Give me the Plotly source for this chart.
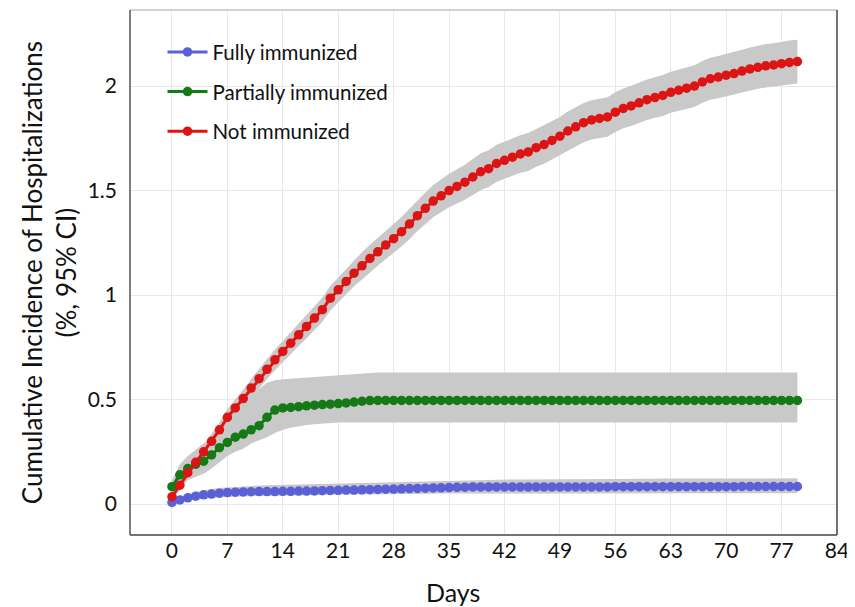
import plotly.graph_objects as go

days = list(range(0, 80))

fully = [0.008, 0.02, 0.03, 0.038, 0.044, 0.048, 0.052, 0.055, 0.057, 0.058,
         0.059, 0.06, 0.06, 0.06, 0.061, 0.061, 0.062, 0.062, 0.063, 0.064,
         0.065, 0.066, 0.067, 0.067, 0.068, 0.069, 0.07, 0.071, 0.072, 0.073,
         0.074, 0.075, 0.076, 0.077, 0.078, 0.079, 0.08, 0.081, 0.082, 0.082,
         0.082, 0.082, 0.082, 0.082, 0.082, 0.082, 0.082, 0.082, 0.082, 0.082,
         0.082, 0.082, 0.082, 0.082, 0.082, 0.082, 0.083, 0.083, 0.083, 0.083,
         0.083, 0.083, 0.083, 0.083, 0.083, 0.083, 0.083, 0.083, 0.083, 0.083,
         0.083, 0.083, 0.084, 0.084, 0.084, 0.084, 0.084, 0.084, 0.084, 0.084]
fully_lo = [0.002, 0.01, 0.016, 0.022, 0.026, 0.029, 0.032, 0.034, 0.036, 0.037,
            0.038, 0.039, 0.039, 0.04, 0.04, 0.041, 0.041, 0.042, 0.043, 0.044,
            0.045, 0.045, 0.046, 0.046, 0.046, 0.047, 0.047, 0.047, 0.048, 0.048,
            0.048, 0.049, 0.049, 0.049, 0.05, 0.05, 0.05, 0.05, 0.05, 0.05,
            0.05, 0.05, 0.05, 0.05, 0.05, 0.05, 0.05, 0.05, 0.05, 0.05,
            0.051, 0.051, 0.051, 0.051, 0.051, 0.051, 0.051, 0.051, 0.051, 0.051,
            0.051, 0.051, 0.051, 0.051, 0.052, 0.052, 0.052, 0.052, 0.052, 0.052,
            0.052, 0.052, 0.052, 0.052, 0.052, 0.052, 0.052, 0.052, 0.052, 0.052]
fully_hi = [0.02, 0.035, 0.048, 0.058, 0.066, 0.072, 0.077, 0.08, 0.083, 0.085,
            0.087, 0.089, 0.09, 0.091, 0.092, 0.093, 0.094, 0.095, 0.096, 0.097,
            0.098, 0.099, 0.1, 0.1, 0.101, 0.102, 0.103, 0.104, 0.105, 0.106,
            0.107, 0.108, 0.109, 0.11, 0.111, 0.112, 0.113, 0.114, 0.115, 0.116,
            0.117, 0.117, 0.117, 0.118, 0.118, 0.118, 0.118, 0.119, 0.119, 0.119,
            0.119, 0.12, 0.12, 0.12, 0.12, 0.12, 0.121, 0.121, 0.121, 0.121,
            0.121, 0.121, 0.122, 0.122, 0.122, 0.122, 0.122, 0.122, 0.122, 0.123,
            0.123, 0.123, 0.123, 0.123, 0.123, 0.123, 0.123, 0.123, 0.123, 0.123]

partial = [0.083, 0.14, 0.17, 0.19, 0.205, 0.235, 0.27, 0.295, 0.32, 0.335,
           0.355, 0.375, 0.415, 0.45, 0.46, 0.462, 0.466, 0.47, 0.473, 0.476,
           0.478, 0.481, 0.484, 0.488, 0.492, 0.495, 0.496, 0.496, 0.496, 0.496,
           0.496, 0.496, 0.496, 0.496, 0.496, 0.496, 0.496, 0.496, 0.496, 0.496,
           0.496, 0.496, 0.496, 0.496, 0.496, 0.496, 0.496, 0.496, 0.496, 0.496,
           0.496, 0.496, 0.496, 0.496, 0.496, 0.496, 0.496, 0.496, 0.496, 0.496,
           0.496, 0.496, 0.496, 0.496, 0.496, 0.496, 0.496, 0.496, 0.496, 0.496,
           0.496, 0.496, 0.496, 0.496, 0.496, 0.496, 0.496, 0.496, 0.496, 0.496]
partial_lo = [0.05, 0.09, 0.115, 0.13, 0.145, 0.17, 0.2, 0.23, 0.25, 0.265,
              0.29, 0.305, 0.32, 0.34, 0.355, 0.365, 0.372, 0.378, 0.382, 0.385,
              0.388, 0.39, 0.39, 0.39, 0.39, 0.39, 0.39, 0.39, 0.39, 0.39,
              0.39, 0.39, 0.39, 0.39, 0.39, 0.39, 0.39, 0.39, 0.39, 0.39,
              0.39, 0.39, 0.39, 0.39, 0.39, 0.39, 0.39, 0.39, 0.39, 0.39,
              0.39, 0.39, 0.39, 0.39, 0.39, 0.39, 0.39, 0.39, 0.39, 0.39,
              0.39, 0.39, 0.39, 0.39, 0.39, 0.39, 0.39, 0.39, 0.39, 0.39,
              0.39, 0.39, 0.39, 0.39, 0.39, 0.39, 0.39, 0.39, 0.39, 0.39]
partial_hi = [0.115, 0.19, 0.23, 0.26, 0.29, 0.32, 0.355, 0.39, 0.43, 0.47,
              0.51, 0.55, 0.58, 0.593, 0.597, 0.6, 0.603, 0.606, 0.609, 0.612,
              0.615, 0.618, 0.621, 0.624, 0.627, 0.629, 0.63, 0.63, 0.63, 0.63,
              0.63, 0.63, 0.63, 0.63, 0.63, 0.63, 0.63, 0.63, 0.63, 0.63,
              0.63, 0.63, 0.63, 0.63, 0.63, 0.63, 0.63, 0.63, 0.63, 0.63,
              0.63, 0.63, 0.63, 0.63, 0.63, 0.63, 0.63, 0.63, 0.63, 0.63,
              0.63, 0.63, 0.63, 0.63, 0.63, 0.63, 0.63, 0.63, 0.63, 0.63,
              0.63, 0.63, 0.63, 0.63, 0.63, 0.63, 0.63, 0.63, 0.63, 0.63]

notimm = [0.035, 0.09, 0.15, 0.2, 0.25, 0.3, 0.355, 0.415, 0.46, 0.505,
          0.555, 0.6, 0.645, 0.69, 0.73, 0.77, 0.81, 0.85, 0.89, 0.93,
          0.985, 1.025, 1.065, 1.105, 1.14, 1.175, 1.207, 1.24, 1.27, 1.303,
          1.34, 1.38, 1.415, 1.45, 1.475, 1.5, 1.52, 1.54, 1.565, 1.59,
          1.605, 1.63, 1.645, 1.66, 1.675, 1.685, 1.705, 1.72, 1.74, 1.76,
          1.785, 1.805, 1.825, 1.838, 1.845, 1.852, 1.875, 1.893, 1.905, 1.92,
          1.935, 1.945, 1.955, 1.97, 1.98, 1.99, 2.0, 2.02, 2.035, 2.043,
          2.052, 2.06, 2.072, 2.082, 2.09, 2.097, 2.101, 2.107, 2.113, 2.117]
notimm_lo = [0.015, 0.065, 0.12, 0.17, 0.215, 0.265, 0.32, 0.375, 0.42, 0.463,
             0.511, 0.554, 0.597, 0.64, 0.68, 0.718, 0.756, 0.794, 0.833, 0.872,
             0.926, 0.965, 1.003, 1.042, 1.075, 1.109, 1.14, 1.172, 1.2, 1.232,
             1.267, 1.306, 1.339, 1.373, 1.396, 1.42, 1.438, 1.456, 1.479, 1.502,
             1.517, 1.541, 1.556, 1.57, 1.585, 1.594, 1.614, 1.628, 1.648, 1.668,
             1.692, 1.712, 1.731, 1.744, 1.751, 1.757, 1.78, 1.798, 1.809, 1.824,
             1.838, 1.848, 1.857, 1.872, 1.881, 1.891, 1.9, 1.92, 1.935, 1.942,
             1.951, 1.958, 1.97, 1.979, 1.987, 1.993, 1.997, 2.002, 2.008, 2.012]
notimm_hi = [0.055, 0.115, 0.18, 0.23, 0.285, 0.335, 0.39, 0.455, 0.5, 0.547,
             0.599, 0.646, 0.693, 0.74, 0.78, 0.822, 0.864, 0.906, 0.947, 0.988,
             1.044, 1.085, 1.127, 1.168, 1.205, 1.241, 1.274, 1.308, 1.34, 1.374,
             1.413, 1.454, 1.491, 1.527, 1.554, 1.58, 1.602, 1.624, 1.651, 1.678,
             1.693, 1.719, 1.734, 1.75, 1.765, 1.776, 1.796, 1.812, 1.832, 1.852,
             1.878, 1.898, 1.919, 1.932, 1.939, 1.947, 1.97, 1.988, 2.001, 2.016,
             2.032, 2.042, 2.053, 2.068, 2.079, 2.089, 2.1, 2.12, 2.135, 2.144,
             2.153, 2.162, 2.174, 2.185, 2.193, 2.201, 2.205, 2.212, 2.218, 2.222]

x_ticks = [0, 7, 14, 21, 28, 35, 42, 49, 56, 63, 70, 77, 84]
y_ticks = [0, 0.5, 1, 1.5, 2]
y_tick_text = ["0", "0.5", "1", "1.5", "2"]

series = [
    ("Fully immunized", fully, fully_lo, fully_hi, "#5a60d6"),
    ("Partially immunized", partial, partial_lo, partial_hi, "#157a15"),
    ("Not immunized", notimm, notimm_lo, notimm_hi, "#dc1414"),
]

BAND = "#c9c9c9"
FONT = "Lato, 'Open Sans', sans-serif"

fig = go.Figure()

# CI bands (drawn first, underneath)
for name, vals, lo, hi, col in series[::-1]:
    fig.add_trace(go.Scatter(x=days, y=lo, mode="lines", line=dict(width=0),
                             showlegend=False, hoverinfo="skip"))
    fig.add_trace(go.Scatter(x=days, y=hi, mode="lines", line=dict(width=0),
                             fill="tonexty", fillcolor=BAND,
                             showlegend=False, hoverinfo="skip"))

for name, vals, lo, hi, col in series:
    fig.add_trace(go.Scatter(x=days, y=vals, mode="lines+markers", name=name,
                             legendgroup=name,
                             line=dict(color=col, width=3),
                             marker=dict(color=col, size=9.5, line=dict(width=0))))

# The page body has an 8px margin, so the figure is 8px smaller than the window.
fig.update_layout(
    width=847, height=599,
    margin=dict(l=122, r=18, t=2, b=72),
    paper_bgcolor="white", plot_bgcolor="white",
    font=dict(family=FONT, color="#111111"),
    showlegend=True,
    legend=dict(x=0.046, y=0.958, xanchor="left", yanchor="top",
                bgcolor="rgba(255,255,255,0)", font=dict(size=20.5, color="#111111"),
                tracegroupgap=10, itemwidth=40),
    xaxis=dict(range=[-5.3, 84], tickmode="array", tickvals=x_ticks,
               ticktext=[str(t) for t in x_ticks],
               showgrid=True, gridcolor="#e8e8e8", gridwidth=1,
               zeroline=False, showline=False, ticks="",
               tickfont=dict(size=21, color="#111111"), ticklabelstandoff=1),
    yaxis=dict(range=[-0.148, 2.364], tickmode="array", tickvals=y_ticks,
               ticktext=y_tick_text,
               showgrid=True, gridcolor="#e8e8e8", gridwidth=1,
               zeroline=False, showline=False, ticks="",
               tickfont=dict(size=21, color="#111111"), ticklabelstandoff=12),
    shapes=[
        dict(type="line", xref="paper", yref="paper", x0=0, x1=1, y0=1, y1=1,
             line=dict(color="#c4c4c4", width=1.5)),
        dict(type="line", xref="paper", yref="paper", x0=0, x1=0, y0=0, y1=1,
             line=dict(color="#555555", width=1.5)),
        dict(type="line", xref="paper", yref="paper", x0=1, x1=1, y0=0, y1=1,
             line=dict(color="#444444", width=1.5)),
        dict(type="line", xref="paper", yref="paper", x0=0, x1=1, y0=0, y1=0,
             line=dict(color="#444444", width=1.5)),
    ],
    annotations=[
        dict(text="Cumulative Incidence of Hospitalizations<br>(%, 95% CI)",
             xref="paper", yref="paper", x=-0.115, y=0.5,
             xanchor="center", yanchor="middle", textangle=-90, showarrow=False,
             font=dict(size=26, color="#111111")),
        dict(text="Days", xref="paper", yref="paper", x=0.457, y=-0.1086,
             xanchor="center", yanchor="middle", showarrow=False,
             font=dict(size=25, color="#111111")),
    ],
)

fig.write_html("out.html")
